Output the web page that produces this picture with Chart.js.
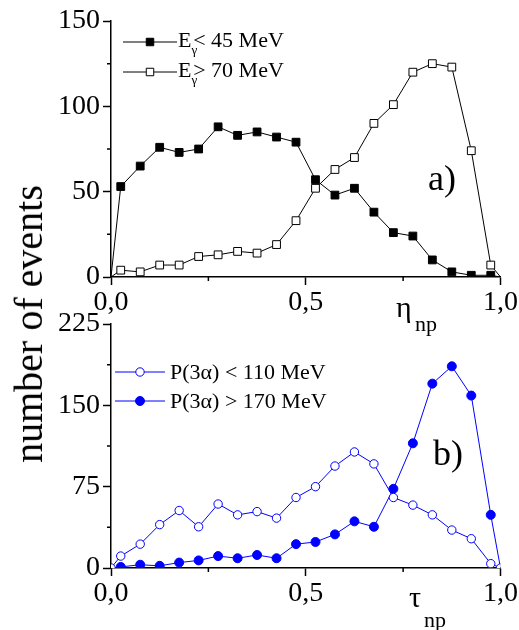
<!DOCTYPE html>
<html>
<head>
<meta charset="utf-8">
<script src="https://cdn.jsdelivr.net/npm/chart.js@4.4.1/dist/chart.umd.min.js"></script>
<style>
    body { margin: 0; background: #fff; }
    #wrap { position: relative; width: 519px; height: 630px; overflow: hidden; font-family: "Liberation Serif", serif; color: #000; }
    canvas { position: absolute; left: 0; }
    .txt { position: absolute; white-space: nowrap; line-height: 1; }
    .txt sub { font-size: 13px; vertical-align: -7px; line-height: 0; }
</style>
</head>
<body>
<div id="wrap">
    <canvas id="topChart" width="519" height="320" style="top:0"></canvas>
    <canvas id="bottomChart" width="519" height="330" style="top:300px"></canvas>

    <div class="txt" style="left:29px; top:324px; font-size:40px; transform: translate(-50%, -50%) rotate(-90deg);">number of events</div>

    <div class="txt" style="left:178px; top:29px; font-size:22px;">E<sub style="margin-right:-4px">γ</sub>&lt; 45 MeV</div>
    <div class="txt" style="left:178px; top:59px; font-size:22px;">E<sub style="margin-right:-4px">γ</sub>&gt; 70 MeV</div>
    <div class="txt" style="left:428px; top:160px; font-size:36px;">a)</div>
    <div class="txt" style="left:396px; top:292px; font-size:30px;">η</div>
    <div class="txt" style="left:415px; top:313px; font-size:22px;">np</div>

    <div class="txt" style="left:170px; top:361px; font-size:22px;">P(3α) &lt; 110 MeV</div>
    <div class="txt" style="left:170px; top:390px; font-size:22px;">P(3α) &gt; 170 MeV</div>
    <div class="txt" style="left:433px; top:435px; font-size:36px;">b)</div>
    <div class="txt" style="left:409px; top:582px; font-size:30px;">τ</div>
    <div class="txt" style="left:424px; top:609px; font-size:22px;">np</div>
</div>

<script>
// bin centres shared by both panels (0 and 1 are the end points of the curves)
const binCenters = [0, 0.025, 0.075, 0.125, 0.175, 0.225, 0.275, 0.325, 0.375, 0.425, 0.475,
    0.525, 0.575, 0.625, 0.675, 0.725, 0.775, 0.825, 0.875, 0.925, 0.975, 1];

// panel a)
const eGammaLow  = [0, 53, 65, 76, 73, 75, 88, 83, 85, 82, 79, 57, 48, 52, 38, 26, 24, 10, 3, 1, 1, 0];
const eGammaHigh = [0, 4, 3, 7, 7, 12, 13, 15, 14, 19, 33, 52, 63, 70, 90, 101, 120, 125, 123, 74, 7, 0];

// panel b)
const pAlphaLow  = [0, 11, 22, 40, 53, 38, 59, 49, 52, 46, 65, 75, 94, 107, 96, 65, 58, 49, 35, 27, 4, 0];
const pAlphaHigh = [0, 1, 3, 2, 5, 7, 11, 9, 12, 9, 22, 24, 31, 43, 38, 73, 115, 170, 186, 159, 49, 0];

const xTicksMinor = [0.25, 0.75];
const topYMinor = [25, 75, 125];
const bottomYMinor = [37.5, 112.5, 187.5];

const toPoints = (ys) => ys.map((y, i) => ({ x: binCenters[i], y: y }));
const fmtComma = (v) => v.toFixed(1).replace('.', ',');
const hideEnds = (r) => (ctx) => (ctx.dataIndex === 0 || ctx.dataIndex === binCenters.length - 1) ? 0 : r;

const BLUE = '#0000ff';
const FONT = { family: '"Liberation Serif", serif', size: 28 };

// short minor ticks on both axes
const minorTicks = {
    id: 'minorTicks',
    afterDraw(chart, args, opts) {
        const ctx = chart.ctx;
        const xs = chart.scales.x, ys = chart.scales.y;
        ctx.save();
        ctx.strokeStyle = '#000';
        ctx.lineWidth = 1.5;
        ctx.beginPath();
        opts.x.forEach(v => {
            const px = xs.getPixelForValue(v);
            ctx.moveTo(px, xs.top); ctx.lineTo(px, xs.top + 4);
        });
        opts.y.forEach(v => {
            const py = ys.getPixelForValue(v);
            ctx.moveTo(ys.right - 4, py); ctx.lineTo(ys.right, py);
        });
        ctx.stroke();
        ctx.restore();
    }
};

// legend line + marker samples (text is in html)
const legendSamples = {
    id: 'legendSamples',
    afterDraw(chart, args, opts) {
        const ctx = chart.ctx;
        opts.rows.forEach(r => {
            const ds = chart.data.datasets[r.dataset];
            ctx.save();
            ctx.strokeStyle = ds.borderColor;
            ctx.lineWidth = 1;
            ctx.beginPath();
            ctx.moveTo(r.x1, r.y); ctx.lineTo(r.x2, r.y);
            ctx.stroke();
            ctx.fillStyle = ds.pointBackgroundColor;
            ctx.strokeStyle = ds.pointBorderColor;
            ctx.lineWidth = ds.pointBorderWidth;
            Chart.helpers.drawPoint(ctx, { pointStyle: ds.pointStyle, radius: r.radius, borderWidth: ds.pointBorderWidth }, (r.x1 + r.x2) / 2, r.y);
            ctx.restore();
        });
    }
};

const makeScales = (yMax, yStep, xHeight) => ({
    x: {
        type: 'linear', min: 0, max: 1,
        border: { color: '#000', width: 1.5 },
        grid: { drawOnChartArea: false, tickLength: 8, tickColor: '#000', tickWidth: 1.5 },
        ticks: { stepSize: 0.5, color: '#000', font: FONT, padding: 1, maxRotation: 0, callback: fmtComma },
        afterFit: (s) => { s.height = xHeight; }
    },
    y: {
        min: 0, max: yMax,
        border: { color: '#000', width: 1.5 },
        grid: { drawOnChartArea: false, tickLength: 8, tickColor: '#000', tickWidth: 1.5 },
        ticks: { stepSize: yStep, color: '#000', font: FONT, padding: 3 },
        afterFit: (s) => { s.width = 111; }
    }
});

new Chart(document.getElementById('topChart'), {
    type: 'line',
    data: {
        datasets: [
            {
                label: 'Eγ < 45 MeV',
                data: toPoints(eGammaLow),
                borderColor: '#000', borderWidth: 1,
                pointStyle: 'rect', pointRadius: hideEnds(5.5),
                pointBackgroundColor: '#000', pointBorderColor: '#000', pointBorderWidth: 1
            },
            {
                label: 'Eγ > 70 MeV',
                data: toPoints(eGammaHigh),
                borderColor: '#000', borderWidth: 1,
                pointStyle: 'rect', pointRadius: hideEnds(5.5),
                pointBackgroundColor: '#fff', pointBorderColor: '#000', pointBorderWidth: 1
            }
        ]
    },
    options: {
        responsive: false, animation: false,
        layout: { padding: { top: 21, right: 17, left: 0, bottom: 0 } },
        scales: makeScales(150, 50, 43),
        plugins: {
            legend: { display: false }, tooltip: { enabled: false },
            minorTicks: { x: xTicksMinor, y: topYMinor },
            legendSamples: { rows: [
                { dataset: 0, x1: 123, x2: 177, y: 42, radius: 5.3 },
                { dataset: 1, x1: 123, x2: 177, y: 72, radius: 5.3 }
            ] }
        }
    },
    plugins: [minorTicks, legendSamples]
});

new Chart(document.getElementById('bottomChart'), {
    type: 'line',
    data: {
        datasets: [
            {
                label: 'P(3α) < 110 MeV',
                data: toPoints(pAlphaLow),
                borderColor: BLUE, borderWidth: 1,
                pointStyle: 'circle', pointRadius: 4.2,
                pointBackgroundColor: '#fff', pointBorderColor: BLUE, pointBorderWidth: 1
            },
            {
                label: 'P(3α) > 170 MeV',
                data: toPoints(pAlphaHigh),
                borderColor: BLUE, borderWidth: 1,
                pointStyle: 'circle', pointRadius: hideEnds(4.5),
                pointBackgroundColor: BLUE, pointBorderColor: BLUE, pointBorderWidth: 1
            }
        ]
    },
    options: {
        responsive: false, animation: false,
        layout: { padding: { top: 24, right: 17, left: 0, bottom: 0 } },
        scales: makeScales(225, 75, 62),
        plugins: {
            legend: { display: false }, tooltip: { enabled: false },
            minorTicks: { x: xTicksMinor, y: bottomYMinor },
            legendSamples: { rows: [
                { dataset: 0, x1: 115, x2: 165, y: 72, radius: 4.2 },
                { dataset: 1, x1: 115, x2: 165, y: 101, radius: 4.5 }
            ] }
        }
    },
    plugins: [minorTicks, legendSamples]
});
</script>
</body>
</html>
